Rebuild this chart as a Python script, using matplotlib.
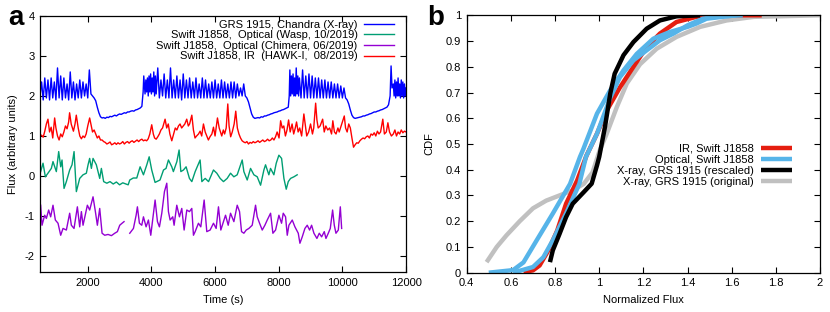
import numpy as np
import matplotlib
matplotlib.use("Agg")
import matplotlib.pyplot as plt

plt.rcParams['font.family'] = ['Liberation Sans', 'DejaVu Sans']
plt.rcParams['font.size'] = 8
plt.rcParams['axes.unicode_minus'] = False

# ---------------- Panel a data: (time [s], flux) ----------------
grs1915_xray = [
    (500,2.0),(550,2.35),(600,1.9),(650,2.45),(700,1.95),(750,2.4),(800,1.9),(850,2.45),(900,1.95),(950,2.35),
    (1000,1.9),(1050,2.7),(1100,1.95),(1150,2.5),(1200,1.9),(1250,2.45),(1300,1.95),(1350,2.3),(1400,1.9),(1450,2.6),
    (1500,1.95),(1550,2.35),(1600,1.9),(1650,2.3),(1700,1.95),(1750,2.4),(1800,1.95),(1850,2.35),(1900,2.0),(1950,2.3),
    (2000,1.95),(2050,2.65),(2100,2.05),(2150,2.0),
    (2200,1.95),(2250,1.88),(2300,1.72),(2350,1.58),(2400,1.48),(2450,1.45),
    (2500,1.46),(2550,1.44),(2600,1.47),(2650,1.46),(2700,1.49),(2750,1.48),(2800,1.5),(2850,1.52),(2900,1.5),(2950,1.53),
    (3000,1.55),(3050,1.54),(3100,1.56),(3150,1.58),(3200,1.57),(3250,1.6),(3300,1.6),(3350,1.62),(3400,1.63),(3450,1.62),
    (3500,1.65),(3550,1.66),(3600,1.68),(3650,1.7),(3700,1.74),(3740,2.1),(3760,2.5),
    (3800,2.05),(3825,2.4),(3850,2.1),(3875,2.45),(3900,2.0),(3925,2.5),(3950,2.1),(3975,2.55),(4000,2.05),(4025,2.45),
    (4050,2.1),(4075,2.6),(4100,2.0),(4125,2.5),(4150,2.05),(4200,2.7),(4250,1.95),(4300,2.4),(4350,2.0),(4400,2.55),
    (4450,1.95),(4500,2.4),(4550,1.95),(4600,2.7),(4650,1.95),(4700,2.4),(4750,1.95),(4800,2.5),(4850,1.95),(4900,2.4),
    (4950,1.9),(5000,2.55),(5050,1.95),(5100,2.4),(5150,1.95),(5200,2.45),(5250,1.95),(5300,2.35),(5350,1.95),(5400,2.45),
    (5450,1.95),(5500,2.3),(5550,1.95),(5600,2.45),(5650,1.95),(5700,2.4),(5750,1.95),(5800,2.3),(5850,1.95),(5900,2.35),
    (5950,1.95),(6000,2.4),(6050,1.95),(6100,2.3),(6150,1.95),(6200,2.4),(6250,1.95),(6300,2.35),(6350,1.95),(6400,2.3),
    (6450,1.95),(6500,2.35),(6550,1.95),(6600,2.35),(6650,1.95),(6700,2.3),(6750,2.0),(6800,2.2),(6850,2.0),(6900,2.3),
    (6950,2.0),(7000,1.95),
    (7050,1.85),(7100,1.7),(7150,1.55),(7200,1.47),(7250,1.44),
    (7300,1.45),(7350,1.46),(7400,1.45),(7450,1.48),(7500,1.47),(7550,1.5),(7600,1.5),(7650,1.52),(7700,1.53),(7750,1.55),
    (7800,1.56),(7850,1.58),(7900,1.59),(7950,1.6),(8000,1.62),(8050,1.63),(8100,1.65),(8150,1.66),(8200,1.68),(8250,1.7),
    (8300,1.72),(8330,2.0),(8350,2.65),
    (8375,2.0),(8400,2.5),(8425,2.05),(8450,2.55),(8475,2.0),(8500,2.45),(8525,2.0),(8550,2.7),(8575,2.05),(8600,2.5),
    (8625,2.0),(8650,2.45),(8700,1.95),(8750,2.65),(8800,1.95),(8850,2.5),(8900,1.95),(8950,2.55),(9000,1.95),(9050,2.5),
    (9100,1.95),(9150,2.45),(9200,1.95),(9250,2.45),(9300,1.95),(9350,2.4),(9400,1.95),(9450,2.4),(9500,1.95),(9550,2.35),
    (9600,1.95),(9650,2.35),(9700,1.95),(9750,2.3),(9800,1.95),(9850,2.3),(9900,1.95),(9950,2.25),(10000,1.95),(10050,2.2),
    (10100,1.95),(10150,1.9),
    (10200,1.8),(10250,1.65),(10300,1.52),(10350,1.46),(10400,1.44),
    (10450,1.45),(10500,1.46),(10550,1.47),(10600,1.48),(10650,1.5),(10700,1.5),(10750,1.52),(10800,1.53),(10850,1.55),
    (10900,1.56),(10950,1.58),(11000,1.6),(11050,1.6),(11100,1.62),(11150,1.63),(11200,1.65),(11250,1.66),(11300,1.68),
    (11350,1.7),(11400,1.72),(11450,1.78),(11500,2.0),(11530,2.75),(11560,2.2),
    (11600,2.3),(11625,2.0),(11650,2.4),(11675,1.95),(11700,2.35),(11725,2.0),(11750,2.45),(11775,2.0),(11800,2.3),
    (11825,1.95),(11850,2.4),(11875,2.0),(11900,2.35),(11925,1.95),(11950,2.3),(11975,2.0),(12000,2.2),
]

j1858_optical_wasp = [
    (520,0.11),(595,0.32),(668,-0.02),(750,0.07),(856,0.19),(908,0.36),(1013,0.11),(1087,0.61),(1150,0.23),(1192,0.4),
    (1255,-0.31),(1328,-0.14),(1432,0.15),(1506,0.28),(1570,0.61),(1642,-0.39),(1747,-0.06),(1852,0.03),(1956,0.07),
    (2010,0.28),(2060,0.44),(2114,0.19),(2166,0.44),(2270,0.28),(2376,-0.06),(2428,0.19),(2500,-0.14),(2600,-0.18),
    (2700,-0.14),(2800,-0.2),(2900,-0.15),(3000,-0.22),(3100,-0.17),(3200,-0.2),(3270,-0.22),(3320,-0.1),
    (3430,-0.05),(3540,-0.05),(3645,0.23),(3750,0.03),(3855,0.28),(3930,0.48),(4010,0.15),(4115,-0.16),(4270,-0.1),
    (4380,0.15),(4460,0.19),(4535,0.4),(4640,0.23),(4690,0.11),(4800,0.36),(4870,0.65),(4925,0.11),(5007,0.15),
    (5090,0.23),(5195,-0.06),(5270,-0.14),(5375,0.11),(5530,0.4),(5585,-0.14),(5690,-0.06),(5795,-0.14),(5950,0.15),
    (6055,0.07),(6160,-0.06),(6264,-0.14),
    (6380,-0.06),(6486,0.07),(6590,-0.02),(6695,0.03),(6853,0.4),(6905,0.11),(7010,-0.1),(7115,0.19),(7220,0.03),
    (7325,-0.02),(7430,-0.23),(7534,0.15),(7586,0.28),(7690,0.03),(7743,0.19),(7848,0.03),(7922,0.32),(8005,0.52),
    (8090,0.44),(8163,-0.06),(8236,-0.33),(8300,-0.14),(8372,-0.06),(8477,-0.02),(8580,0.03),
]

j1858_optical_chimera = [
    (520,-0.73),(563,-1.23),(647,-0.98),(700,-1.06),(772,-0.85),(835,-1.02),(908,-0.73),(982,-1.1),(1066,-1.18),
    (1150,-1.48),(1223,-1.31),(1328,-1.35),(1432,-0.93),(1485,-1.23),(1569,-1.31),(1674,-0.77),(1747,-1.27),(1800,-0.89),
    (1852,-1.23),(1988,-0.73),(2061,-0.85),(2166,-0.52),(2240,-0.89),(2302,-1.23),(2376,-0.81),(2450,-1.43),(2533,-1.48),
    (2638,-1.46),(2743,-1.49),(2848,-1.43),(2931,-1.39),(3005,-1.23),(3078,-1.18),(3140,-1.14),
    (3230,None),
    (3320,-1.43),(3435,-1.31),(3520,-0.98),(3560,-0.77),(3623,-1.18),(3697,-1.23),(3750,-1.02),(3833,-1.27),(3906,-1.1),
    (3980,-1.48),(4116,-0.6),(4190,-1.14),(4252,-1.27),(4326,-0.93),(4410,-0.39),(4483,-0.18),(4535,-0.89),(4588,-1.1),
    (4671,-1.02),(4713,-1.23),(4797,-0.73),(4881,-1.02),(4954,-0.81),(5028,-1.35),(5112,-0.85),(5195,-0.89),(5269,-0.81),
    (5321,-1.48),(5374,-1.39),(5478,-1.18),(5552,-1.27),(5657,-0.6),(5740,-1.39),(5845,-1.35),(5950,-1.18),(6034,-1.31),
    (6107,-0.77),(6181,-1.35),
    (6264,-1.14),(6329,-0.98),(6413,-1.23),(6486,-0.93),(6591,-1.14),(6696,-0.73),(6769,-0.89),(6832,-1.39),(6905,-1.43),
    (6979,-1.35),(7062,-1.31),(7167,-1.23),(7272,-0.73),(7324,-1.02),(7398,-1.18),(7482,-1.35),(7565,-1.23),(7639,-1.1),
    (7744,-0.93),(7817,-1.43),(7901,-1.35),(8006,-0.98),(8089,-1.18),(8142,-0.93),(8215,-1.02),(8268,-1.48),(8320,-1.23),
    (8425,-1.1),(8509,-1.27),(8614,-1.43),(8666,-1.68),(8739,-1.52),(8823,-1.31),(8896,-1.23),(8970,-1.35),(9033,-1.23),
    (9106,-1.43),(9200,-1.56),(9274,-1.43),(9348,-1.52),(9431,-1.39),(9484,-1.56),(9557,-1.43),(9620,-1.31),(9693,-0.85),
    (9746,-1.23),(9798,-1.43),(9872,-1.35),(9935,-0.77),(9977,-1.31),
]

j1858_ir_hawki = [
    (500,1.0),(550,1.02),(600,0.97),(650,1.12),(700,1.3),(750,1.42),(800,1.1),(850,1.22),(900,0.95),(960,1.45),
    (1000,1.2),(1050,1.0),(1100,0.9),(1150,1.05),(1200,0.98),(1250,1.1),(1300,1.25),(1350,1.18),(1400,1.35),(1430,1.58),
    (1480,1.3),(1550,1.12),(1600,1.3),(1640,1.52),(1700,1.2),(1750,1.0),(1800,0.93),(1850,1.0),(1900,0.96),(1950,1.05),
    (2000,1.25),(2060,1.45),(2100,1.3),(2150,1.1),(2200,1.15),(2250,1.05),(2300,0.95),(2350,1.0),(2400,0.9),(2450,0.9),
    (2500,0.86),(2550,0.84),(2600,0.8),(2650,0.82),(2700,0.85),(2750,0.78),(2800,0.8),(2850,0.83),(2900,0.79),(2950,0.83),
    (3000,0.8),(3050,0.82),(3100,0.86),(3150,0.8),(3200,0.84),(3250,0.86),(3300,0.82),(3350,0.86),(3400,0.88),(3450,0.84),
    (3500,0.87),(3550,0.9),(3600,0.86),(3650,0.9),(3700,0.92),(3750,0.88),(3800,0.9),(3850,0.88),(3900,0.93),(3950,1.05),
    (4010,1.28),(4060,1.05),(4100,0.95),(4150,0.92),(4200,0.98),(4250,1.05),(4300,1.15),(4350,1.2),(4430,1.42),(4480,1.2),
    (4530,1.3),(4580,1.05),(4640,0.88),(4700,1.05),(4750,1.2),(4800,1.15),(4850,1.25),(4900,1.3),(4950,1.2),(5000,1.25),
    (5050,1.3),(5110,1.42),(5160,1.25),(5200,1.3),(5270,1.52),(5320,1.15),(5370,0.95),(5420,1.0),(5480,1.05),(5530,1.12),
    (5580,1.0),(5635,1.3),(5690,1.1),(5740,1.0),(5790,0.9),(5840,0.98),(5900,1.05),(5950,1.22),(6000,1.0),(6075,1.45),
    (6130,1.2),(6210,1.0),(6260,1.15),(6300,1.05),(6350,1.2),(6400,1.8),(6440,1.25),(6490,0.98),(6540,1.1),(6600,1.3),
    (6650,1.62),(6700,1.2),(6750,1.05),(6800,0.95),(6850,0.88),(6900,0.85),(6950,0.83),(7000,0.86),(7050,0.8),(7100,0.84),
    (7150,0.82),(7200,0.86),(7250,0.83),(7300,0.85),(7350,0.88),(7400,0.84),(7450,0.87),(7500,0.9),(7550,0.86),(7600,0.88),
    (7650,0.92),(7700,0.88),(7750,0.9),(7800,0.95),(7850,0.9),(7900,0.98),(7950,1.1),(8010,0.95),(8060,1.38),(8110,1.2),
    (8160,1.25),(8210,1.0),(8260,1.15),(8310,1.4),(8360,1.1),(8420,1.3),(8470,1.05),(8520,1.2),(8560,1.35),(8610,1.1),
    (8660,1.2),(8720,1.0),(8790,1.55),(8840,1.25),(8880,1.0),(8940,1.1),(9000,1.3),(9060,1.05),(9100,1.2),(9160,1.82),
    (9200,1.4),(9240,1.2),(9300,1.25),(9380,1.42),(9430,1.1),(9480,1.25),(9540,1.15),(9600,1.2),(9660,1.05),(9700,1.38),
    (9750,1.1),(9800,1.05),(9860,1.2),(9900,1.1),(9960,1.25),(10060,1.5),(10100,1.2),(10150,1.1),(10200,1.3),(10250,1.2),
    (10300,0.95),(10350,0.72),(10400,0.78),(10450,0.83),(10500,0.82),(10550,0.88),(10600,0.92),(10650,0.95),(10700,0.93),
    (10750,0.98),(10800,1.0),(10850,0.95),(10900,1.05),(10950,1.02),(11000,1.08),(11050,1.0),(11100,1.12),(11150,1.05),
    (11200,1.1),(11270,1.42),(11320,1.05),(11380,1.1),(11430,1.33),(11480,1.1),(11540,1.0),(11600,1.05),(11650,1.15),
    (11700,1.0),(11750,1.1),(11800,1.05),(11850,1.15),(11900,1.08),(11950,1.12),(12000,1.1),
]

labels_a = [
    "GRS 1915, Chandra (X-ray)",
    "Swift J1858,  Optical (Wasp, 10/2019)",
    "Swift J1858,  Optical (Chimera, 06/2019)",
    "Swift J1858, IR  (HAWK-I,  08/2019)",
]

# ---------------- Panel b data: (normalized flux, CDF) ----------------
cdf_ir = [(0.657,0.003),(0.70,0.009),(0.73,0.028),(0.77,0.087),(0.81,0.164),(0.85,0.268),(0.90,0.358),(0.943,0.456),
          (0.99,0.54),(1.034,0.63),(1.094,0.72),(1.155,0.80),(1.215,0.877),(1.275,0.929),(1.35,0.974),(1.44,0.994),
          (1.547,1.0),(1.736,1.0)]
cdf_opt_1 = [(0.50,0.0),(0.61,0.01),(0.657,0.04),(0.717,0.126),(0.79,0.23),(0.868,0.345),(0.913,0.45),(0.928,0.48),
             (0.99,0.618),(1.05,0.709),(1.11,0.786),(1.17,0.85),(1.245,0.909),(1.32,0.935),(1.40,0.955),(1.44,0.968),
             (1.487,0.987),(1.62,1.0)]
cdf_opt_2 = [(0.61,0.0),(0.70,0.022),(0.747,0.06),(0.79,0.126),(0.85,0.23),(0.91,0.345),(0.94,0.45),(0.99,0.54),
             (1.05,0.68),(1.094,0.76),(1.155,0.825),(1.215,0.864),(1.275,0.903),(1.336,0.929),(1.40,0.961),
             (1.47,0.987),(1.547,0.996),(1.65,1.0)]
cdf_xray_rescaled = [(0.777,0.041),(0.79,0.087),(0.82,0.15),(0.85,0.216),(0.88,0.268),(0.93,0.313),(0.966,0.346),
                     (0.99,0.417),(1.0,0.45),(1.026,0.566),(1.05,0.696),(1.07,0.773),(1.11,0.845),(1.155,0.896),
                     (1.215,0.948),(1.275,0.98),(1.35,0.996),(1.457,1.0)]
cdf_xray_original = [(0.49,0.041),(0.536,0.10),(0.58,0.145),(0.64,0.20),(0.70,0.25),(0.76,0.28),(0.82,0.30),(0.88,0.32),
                     (0.93,0.345),(0.97,0.39),(1.0,0.47),(1.034,0.54),(1.08,0.644),(1.125,0.735),(1.185,0.81),
                     (1.26,0.87),(1.35,0.916),(1.457,0.955),(1.577,0.98),(1.70,0.994),(1.85,0.997),(2.0,1.0)]
labels_b = ["IR, Swift J1858", "Optical, Swift J1858", "X-ray, GRS 1915 (rescaled)", "X-ray, GRS 1915 (original)"]


def xy(pairs):
    t = np.array([p[0] for p in pairs], dtype=float)
    v = np.array([np.nan if p[1] is None else p[1] for p in pairs], dtype=float)
    return t, v


def gp_style(ax):
    ax.tick_params(direction='in', top=True, right=True, length=4, width=0.8, pad=4, labelsize=8)
    for s in ax.spines.values():
        s.set_linewidth(0.9)


fig = plt.figure(figsize=(8.3, 3.12), dpi=100)
axa = fig.add_axes([0.0482, 0.128, 0.4410, 0.821])
axb = fig.add_axes([0.5623, 0.126, 0.4257, 0.825])

# Panel a
cols_a = ['#0000ff', '#009e73', '#9400d3', '#ff0000']
series_a = [grs1915_xray, j1858_optical_wasp, j1858_optical_chimera, j1858_ir_hawki]
for pairs, c, lab in zip(series_a, cols_a, labels_a):
    t, v = xy(pairs)
    axa.plot(t, v, color=c, lw=1.0, label=lab)
axa.set_xlim(500, 12000)
axa.set_ylim(-2.4, 4)
axa.set_xticks([2000, 4000, 6000, 8000, 10000, 12000])
axa.set_yticks([-2, -1, 0, 1, 2, 3, 4])
axa.set_xlabel("Time (s)", fontsize=8, labelpad=5)
axa.set_ylabel("Flux (arbitrary units)", fontsize=8, labelpad=5)
gp_style(axa)
axa.legend(loc='upper right', bbox_to_anchor=(0.968, 0.985), frameon=False, markerfirst=False,
           handlelength=2.7, handletextpad=0.6, labelspacing=0.05, borderpad=0, borderaxespad=0, fontsize=8)

# Panel b
axb.plot(*xy(cdf_xray_original), color='#c0c0c0', lw=3.2, solid_capstyle='butt', label=labels_b[3])
axb.plot(*xy(cdf_ir), color='#e51e10', lw=3.2, solid_capstyle='butt', label=labels_b[0])
axb.plot(*xy(cdf_opt_1), color='#56b4e9', lw=3.2, solid_capstyle='butt', label=labels_b[1])
axb.plot(*xy(cdf_opt_2), color='#56b4e9', lw=3.2, solid_capstyle='butt')
axb.plot(*xy(cdf_xray_rescaled), color='#000000', lw=3.2, solid_capstyle='butt', label=labels_b[2])
axb.set_xlim(0.4, 2.0)
axb.set_ylim(0, 1)
axb.set_xticks(np.round(np.arange(0.4, 2.01, 0.2), 1))
axb.set_xticklabels(['0.4', '0.6', '0.8', '1', '1.2', '1.4', '1.6', '1.8', '2'])
axb.set_yticks(np.round(np.arange(0, 1.01, 0.1), 1))
axb.set_yticklabels(['0', '0.1', '0.2', '0.3', '0.4', '0.5', '0.6', '0.7', '0.8', '0.9', '1'])
axb.set_xlabel("Normalized Flux", fontsize=8, labelpad=5)
axb.set_ylabel("CDF", fontsize=8, labelpad=8)
gp_style(axb)
h, l = axb.get_legend_handles_labels()
hd = dict(zip(l, h))
axb.legend([hd[x] for x in labels_b], labels_b, loc='upper right', bbox_to_anchor=(0.92, 0.50),
           frameon=False, markerfirst=False, handlelength=2.8, handletextpad=0.6, labelspacing=0.1,
           borderpad=0, borderaxespad=0, fontsize=8)

fig.text(0.010, 0.985, "a", fontsize=20, fontweight='bold', va='top', ha='left')
fig.text(0.515, 0.985, "b", fontsize=20, fontweight='bold', va='top', ha='left')

fig.savefig("out.png", dpi=100)
